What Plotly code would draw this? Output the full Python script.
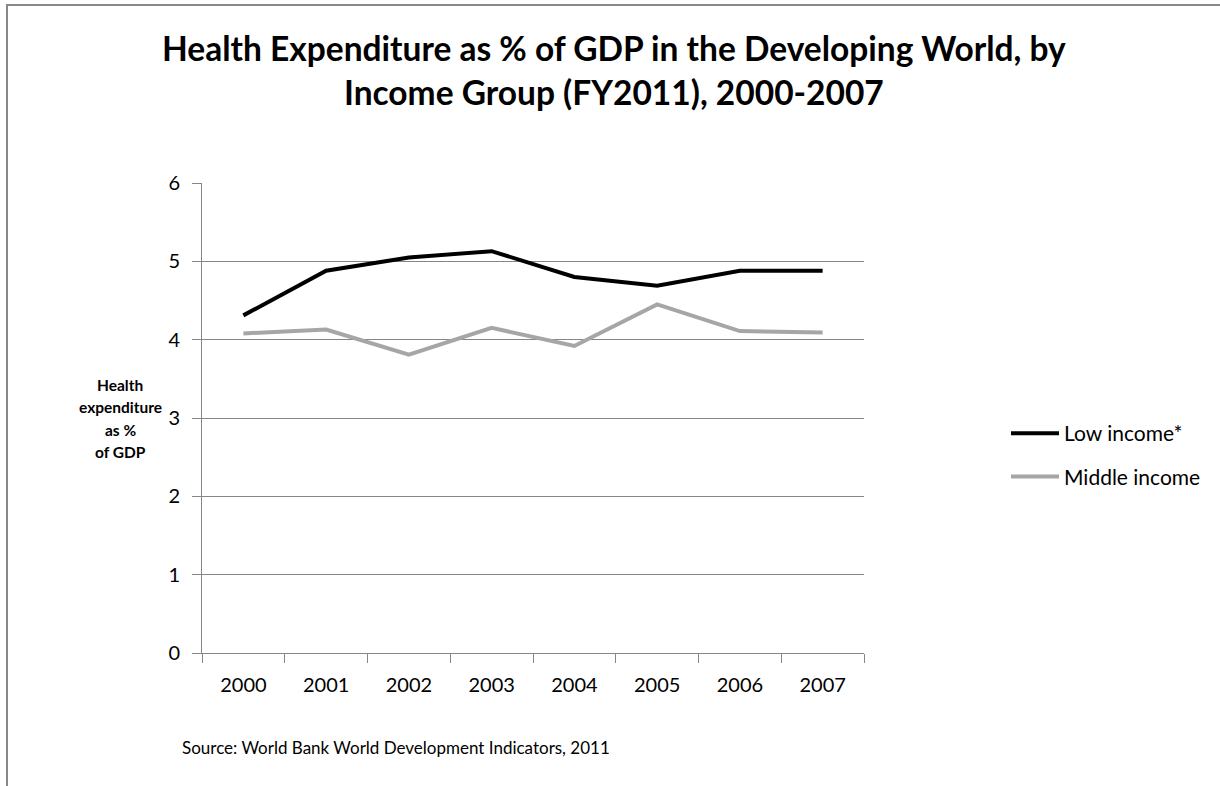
import plotly.graph_objects as go

years = ["2000", "2001", "2002", "2003", "2004", "2005", "2006", "2007"]
low_income = [4.31, 4.88, 5.05, 5.13, 4.80, 4.69, 4.88, 4.88]
middle_income = [4.08, 4.13, 3.81, 4.15, 3.92, 4.45, 4.11, 4.09]
y_ticks = [0, 1, 2, 3, 4, 5, 6]
y_title_lines = ["Health", "expenditure", "as %", "of GDP"]

FONT = "Lato"
GRID = "#868686"

fig = go.Figure()
fig.add_trace(go.Scatter(x=years, y=low_income, mode="lines", name="Low income*",
                         line=dict(color="#000000", width=4), legendgroup="a"))
fig.add_trace(go.Scatter(x=years, y=middle_income, mode="lines", name="Middle income",
                         line=dict(color="#a6a6a6", width=4), legendgroup="b"))

L, R, T, B = 202, 864, 183, 653
W, H = 1220, 786

def px(x):
    return (x - L) / (R - L)

def py(y):
    return (B - y) / (B - T)

annotations = [
    dict(text="<b>Health Expenditure as % of GDP in the Developing World, by<br>Income Group (FY2011), 2000-2007</b>",
         xref="paper", yref="paper", x=px(614), y=py(26), xanchor="center", yanchor="top",
         showarrow=False, align="center",
         font=dict(size=33.5, family=FONT, color="#000000")),
    dict(text="Source: World Bank World Development Indicators, 2011",
         xref="paper", yref="paper", x=px(180), y=py(747), xanchor="left", yanchor="middle",
         showarrow=False, align="left",
         font=dict(size=17, family=FONT, color="#000000")),
]
for i, line in enumerate(y_title_lines):
    annotations.append(dict(text="<b>" + line + "</b>", xref="paper", yref="paper",
                            x=px(120), y=py(385 + i * 22.4), xanchor="center", yanchor="middle",
                            showarrow=False, font=dict(size=15.5, family=FONT, color="#000000")))

fig.update_layout(
    width=W, height=H,
    margin=dict(l=L, r=W - R, t=T, b=H - B, pad=0),
    paper_bgcolor="white", plot_bgcolor="white",
    font=dict(family=FONT, color="#000000"),
    showlegend=True,
    legend=dict(x=px(1006), y=py(413), xanchor="left", yanchor="top",
                font=dict(size=21, family=FONT, color="#000000"),
                tracegroupgap=13, traceorder="grouped", itemwidth=48,
                bgcolor="rgba(0,0,0,0)"),
    xaxis=dict(type="category", range=[-0.5, 7.5], tickson="boundaries",
               ticks="outside", ticklen=9, tickcolor=GRID, showline=True,
               linecolor=GRID, linewidth=1, showgrid=False,
               tickfont=dict(size=20, family=FONT, color="#000000"),
               ticklabelstandoff=14),
    yaxis=dict(range=[0, 6], tickvals=y_ticks, ticks="outside", ticklen=9,
               tickcolor=GRID, showline=True, linecolor=GRID, linewidth=1,
               showgrid=True, gridcolor=GRID, gridwidth=1, zeroline=False,
               tickfont=dict(size=20, family=FONT, color="#000000"),
               ticklabelstandoff=8),
    shapes=[dict(type="rect", xref="paper", yref="paper",
                 x0=px(7), x1=px(1300), y0=py(900), y1=py(5),
                 line=dict(color="#888888", width=2), fillcolor="rgba(0,0,0,0)",
                 layer="below")],
    annotations=annotations,
)

fig.write_html("out.html", config={"displayModeBar": False},
               post_script="document.body.style.margin='0';document.body.style.overflow='hidden';")
